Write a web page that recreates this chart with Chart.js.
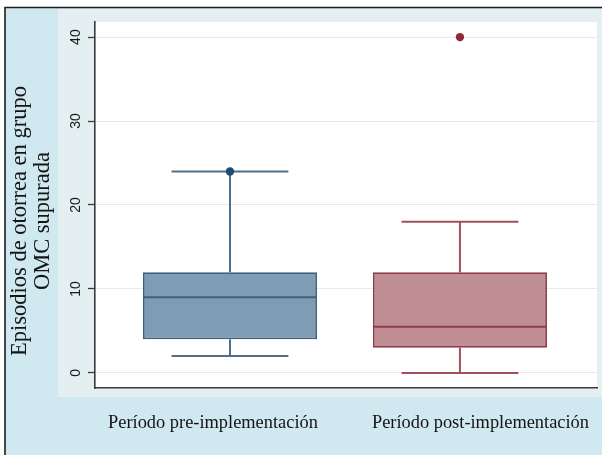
<!DOCTYPE html>
<html>
<head>
<meta charset="utf-8">
<script src="https://cdn.jsdelivr.net/npm/chart.js@4/dist/chart.umd.min.js"></script>
<style>
  html, body { margin: 0; padding: 0; background: #ffffff; }
  #wrap { width: 602px; height: 455px; }
</style>
</head>
<body>
<div id="wrap"><canvas id="c" width="602" height="455"></canvas></div>
<script>
// Episodios de otorrea por período: resumen de cinco números por grupo
const groups = ['Período pre-implementación', 'Período post-implementación'];
const groupPos = [1, 2];
const lowerWhisker = [2, 0];
const q1 = [4, 3];
const median = [9, 5.5];
const q3 = [12, 12];
const upperWhisker = [24, 18];
const outliers = [[24], [40]];
const yTicks = [0, 10, 20, 30, 40];
const yTitle = ['Episodios de otorrea en grupo', 'OMC supurada'];

const fillColors = ['#7f9cb5', '#c08f95'];
const edgeColors = ['#3f607e', '#8f3b4a'];
const whiskerColors = ['#4f6f8b', '#a1505e'];
const dotColors = ['#1d4b72', '#8a2a3b'];

const SERIF = '"Liberation Serif", "Times New Roman", serif';
const SANS = '"Liberation Sans", Arial, sans-serif';

const boxData = groupPos.map((x, i) => ({ x, y: [q1[i], q3[i]] }));
const dotData = [];
const dotCols = [];
outliers.forEach((arr, i) => arr.forEach(v => { dotData.push({ x: groupPos[i], y: v }); dotCols.push(dotColors[i]); }));

// Panels, frame, axis title and group captions
const decor = {
  id: 'decor',
  beforeDraw(chart) {
    const { ctx, chartArea: ca, width, height } = chart;
    ctx.save();
    ctx.fillStyle = '#ffffff';
    ctx.fillRect(0, 0, width, height);
    ctx.fillStyle = '#d0e8ef';
    ctx.fillRect(5, 8, width - 5, height - 8);
    ctx.fillStyle = '#e3eff1';
    ctx.fillRect(ca.left - 37, ca.top - 13, width - (ca.left - 37), ca.bottom - ca.top + 22);
    ctx.fillStyle = '#ffffff';
    ctx.fillRect(ca.left, ca.top, ca.right - ca.left, ca.bottom - ca.top);
    ctx.strokeStyle = '#1c1c1c';
    ctx.lineWidth = 1.6;
    ctx.beginPath();
    ctx.moveTo(5, height);
    ctx.lineTo(5, 7.5);
    ctx.lineTo(width, 7.5);
    ctx.stroke();
    ctx.restore();
  },
  afterDraw(chart) {
    const { ctx, chartArea: ca, width } = chart;
    ctx.save();
    ctx.fillStyle = '#141414';
    // y-axis title, two lines, rotated
    ctx.font = '22.5px ' + SERIF;
    ctx.textAlign = 'center';
    ctx.textBaseline = 'middle';
    ctx.translate(32, 221);
    ctx.rotate(-Math.PI / 2);
    ctx.fillText(yTitle[0], 0, -11.5);
    ctx.fillText(yTitle[1], 0, 11.5);
    ctx.restore();

    // group captions, laid out as a centred row under the plot
    ctx.save();
    ctx.fillStyle = '#141414';
    ctx.font = '18.4px ' + SERIF;
    ctx.textBaseline = 'middle';
    ctx.textAlign = 'left';
    const gap = 54;
    const widths = groups.map(g => ctx.measureText(g).width);
    const total = widths.reduce((a, b) => a + b, 0) + gap * (groups.length - 1);
    let x = (ca.left + width) / 2 - total / 2;
    groups.forEach((g, i) => {
      ctx.fillText(g, x, 423);
      x += widths[i] + gap;
    });
    ctx.restore();
  }
};

// Whiskers with caps (under the boxes and dots) and median lines (over the boxes)
const boxParts = {
  id: 'boxParts',
  beforeDatasetsDraw(chart) {
    const { ctx, scales: { x, y } } = chart;
    const capHalf = 0.254;
    ctx.save();
    ctx.lineWidth = 2;
    groupPos.forEach((g, i) => {
      ctx.strokeStyle = whiskerColors[i];
      const cx = x.getPixelForValue(g);
      const cl = x.getPixelForValue(g - capHalf);
      const cr = x.getPixelForValue(g + capHalf);
      ctx.beginPath();
      ctx.moveTo(cx, y.getPixelForValue(q3[i]));
      ctx.lineTo(cx, y.getPixelForValue(upperWhisker[i]));
      ctx.moveTo(cx, y.getPixelForValue(q1[i]));
      ctx.lineTo(cx, y.getPixelForValue(lowerWhisker[i]));
      ctx.moveTo(cl, y.getPixelForValue(upperWhisker[i]));
      ctx.lineTo(cr, y.getPixelForValue(upperWhisker[i]));
      ctx.moveTo(cl, y.getPixelForValue(lowerWhisker[i]));
      ctx.lineTo(cr, y.getPixelForValue(lowerWhisker[i]));
      ctx.stroke();
    });
    ctx.restore();
  },
  afterDatasetsDraw(chart) {
    const { ctx, scales: { y } } = chart;
    const bars = chart.getDatasetMeta(1).data;
    ctx.save();
    ctx.lineWidth = 2;
    groupPos.forEach((g, i) => {
      const bar = bars[i];
      const half = bar.width / 2;
      const py = y.getPixelForValue(median[i]);
      ctx.strokeStyle = edgeColors[i];
      ctx.beginPath();
      ctx.moveTo(bar.x - half, py);
      ctx.lineTo(bar.x + half, py);
      ctx.stroke();
    });
    ctx.restore();
  }
};

new Chart(document.getElementById('c'), {
  type: 'bar',
  data: {
    datasets: [
      {
        type: 'scatter',
        data: dotData,
        backgroundColor: dotCols,
        borderColor: dotCols,
        pointRadius: 4.2,
        pointHoverRadius: 4.2,
        borderWidth: 0
      },
      {
        type: 'bar',
        data: boxData,
        backgroundColor: fillColors,
        borderColor: edgeColors,
        borderWidth: 1.8,
        borderSkipped: false,
        categoryPercentage: 0.757,
        barPercentage: 1
      }
    ]
  },
  options: {
    responsive: false,
    animation: false,
    devicePixelRatio: 1,
    layout: { padding: { left: 0, top: 22, right: 5, bottom: 0 } },
    plugins: { legend: { display: false }, tooltip: { enabled: false } },
    scales: {
      x: {
        type: 'linear',
        offset: false,
        min: 0.413,
        max: 2.596,
        afterBuildTicks(scale) { scale.ticks = groupPos.map(v => ({ value: v })); },
        afterFit(scale) { scale.height = 67; },
        ticks: { display: false },
        grid: { display: false, offset: false },
        border: { display: true, color: '#3a3a3a', width: 1.6 }
      },
      y: {
        type: 'linear',
        min: -1.8,
        max: 41.8,
        afterBuildTicks(scale) { scale.ticks = yTicks.map(v => ({ value: v })); },
        afterFit(scale) { scale.width = 95; },
        ticks: {
          minRotation: 90,
          maxRotation: 90,
          crossAlign: 'center',
          padding: 4,
          color: '#1a1a1a',
          font: { family: SANS, size: 14 }
        },
        grid: {
          color: '#e7e9f0',
          lineWidth: 1,
          tickColor: '#3a3a3a',
          tickLength: 7,
          tickWidth: 1.3
        },
        border: { display: true, color: '#3a3a3a', width: 1.6 }
      }
    }
  },
  plugins: [decor, boxParts]
});
</script>
</body>
</html>
